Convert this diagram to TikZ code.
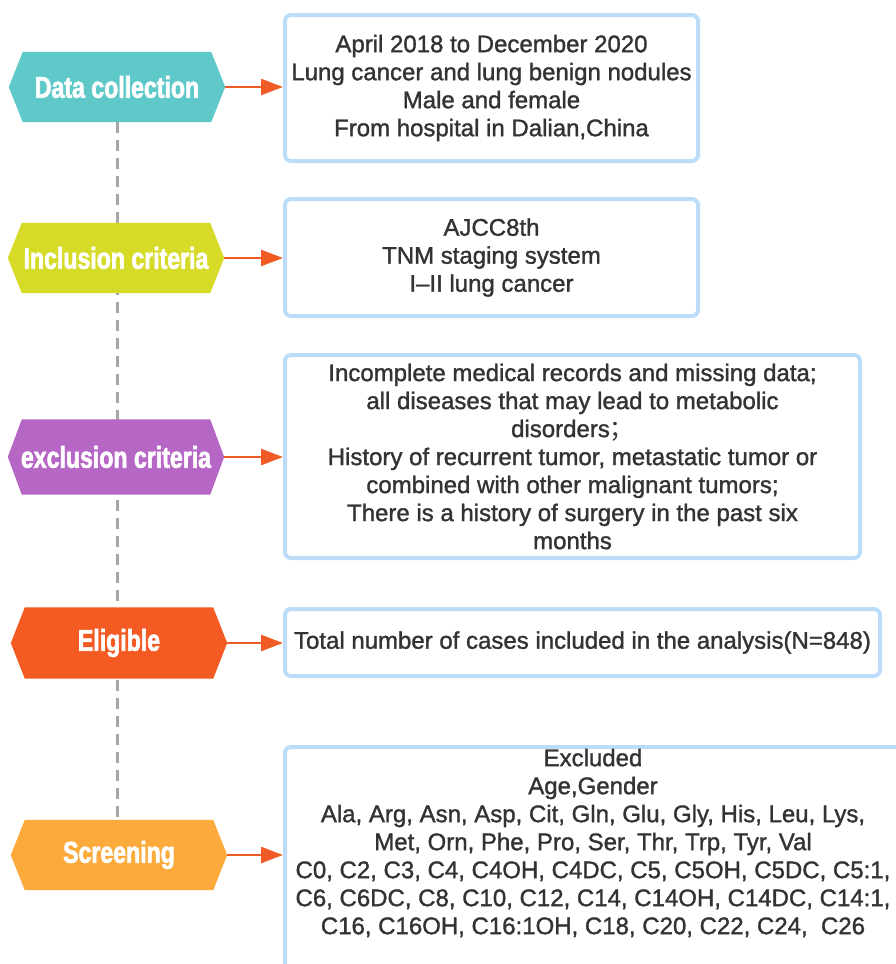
\documentclass[tikz,border=0pt]{standalone}
\usepackage{fontspec}
\setmainfont[FakeBold=1.3]{Liberation Sans}
\newfontfamily\hexfont[FakeStretch=0.77,FakeBold=2]{Liberation Sans}
\newfontfamily\cjkf{Noto Sans CJK SC}
\usetikzlibrary{arrows.meta}
\definecolor{cteal}{HTML}{5FC9CA}
\definecolor{cyg}{HTML}{D5DB26}
\definecolor{cpur}{HTML}{B666C5}
\definecolor{cred}{HTML}{F45B22}
\definecolor{corg}{HTML}{FBAA3B}
\definecolor{carr}{HTML}{F05A24}
\definecolor{cbord}{HTML}{BCDDFA}
\definecolor{cdash}{HTML}{A6A6A6}
\definecolor{ctxt}{HTML}{333333}
\tikzset{
  hexbox/.style={inner sep=0pt, minimum width=216pt, minimum height=70pt},
  hextext/.style={inner sep=0pt, text=white, font=\hexfont\bfseries\fontsize{30}{32}\selectfont},
  boxnode/.style={draw=cbord, line width=4pt, rounded corners=6pt, inner sep=0pt, fill=white},
  boxtext/.style={align=center, text=ctxt, inner sep=0pt, font=\fontsize{24}{28}\selectfont},
  arr/.style={draw=carr, line width=2.5pt, -{Triangle[length=22pt,width=16pt]}},
  vline/.style={draw=cdash, line width=3pt, dash pattern=on 11pt off 7pt},
}
\newcommand{\hexfill}[2]{%
  \fill[#2] (#1.west) -- ([xshift=14pt]#1.north west) -- ([xshift=-14pt]#1.north east)
    -- (#1.east) -- ([xshift=-14pt]#1.south east) -- ([xshift=14pt]#1.south west) -- cycle;}
\begin{document}
\begin{tikzpicture}[x=1pt,y=-1pt]
\clip (0,0) rectangle (896,964);
\fill[white] (0,0) rectangle (896,964);
% hexagon anchors
\node[hexbox] (data) at (117,87) {};
\node[hexbox] (incl) at (116,258) {};
\node[hexbox, minimum height=75pt] (excl) at (116,457) {};
\node[hexbox, minimum height=71pt] (elig) at (119,643) {};
\node[hexbox] (scr) at (119,855) {};
% dashed spine
\draw[vline] (data.south) -- (data.south |- scr.north);
% hexagons
\hexfill{data}{cteal}
\hexfill{incl}{cyg}
\hexfill{excl}{cpur}
\hexfill{elig}{cred}
\hexfill{scr}{corg}
\node[hextext] (datat) at (data) {Data collection};
\node[hextext] (inclt) at (incl) {Inclusion criteria};
\node[hextext] (exclt) at (excl) {exclusion criteria};
\node[hextext] (eligt) at (elig) {Eligible};
\node[hextext] (scrt) at (scr) {Screening};
% boxes
\node[boxnode, boxtext, minimum width=413pt, minimum height=146pt] (b1) at (491.5,88)
  {April 2018 to December 2020\\Lung cancer and lung benign nodules\\Male and female\\From hospital in Dalian,China};
\node[boxnode, boxtext, minimum width=413pt, minimum height=117pt] (b2) at (491.5,257.5)
  {AJCC8th\\TNM staging system\\I–II lung cancer};
\node[boxnode, boxtext, minimum width=575pt, minimum height=203pt] (b3) at (572.5,456.5)
  {Incomplete medical records and missing data;\\all diseases that may lead to metabolic\\disorders{\cjkf ；}\\History of recurrent tumor, metastatic tumor or\\combined with other malignant tumors;\\There is a history of surgery in the past six\\months};
\node[boxnode, boxtext, minimum width=595pt, minimum height=67pt] (b4) at (582.5,642.5)
  {Total number of cases included in the analysis(N=848)};
\node[boxnode, minimum width=616pt, minimum height=241pt] (b5) at (593,867.5) {};
\node[boxtext] (b5t) at (593,843)
  {Excluded\\Age,Gender\\Ala, Arg, Asn, Asp, Cit, Gln, Glu, Gly, His, Leu, Lys,\\Met, Orn, Phe, Pro, Ser, Thr, Trp, Tyr, Val\\C0, C2, C3, C4, C4OH, C4DC, C5, C5OH, C5DC, C5:1,\\C6, C6DC, C8, C10, C12, C14, C14OH, C14DC, C14:1,\\C16, C16OH, C16:1OH, C18, C20, C22, C24,\ \ C26};
% arrows
\draw[arr] (data.east) -- (data.east -| b1.west);
\draw[arr] (incl.east) -- (incl.east -| b2.west);
\draw[arr] (excl.east) -- (excl.east -| b3.west);
\draw[arr] (elig.east) -- (elig.east -| b4.west);
\draw[arr] (scr.east) -- (scr.east -| b5.west);
\end{tikzpicture}
\end{document}
